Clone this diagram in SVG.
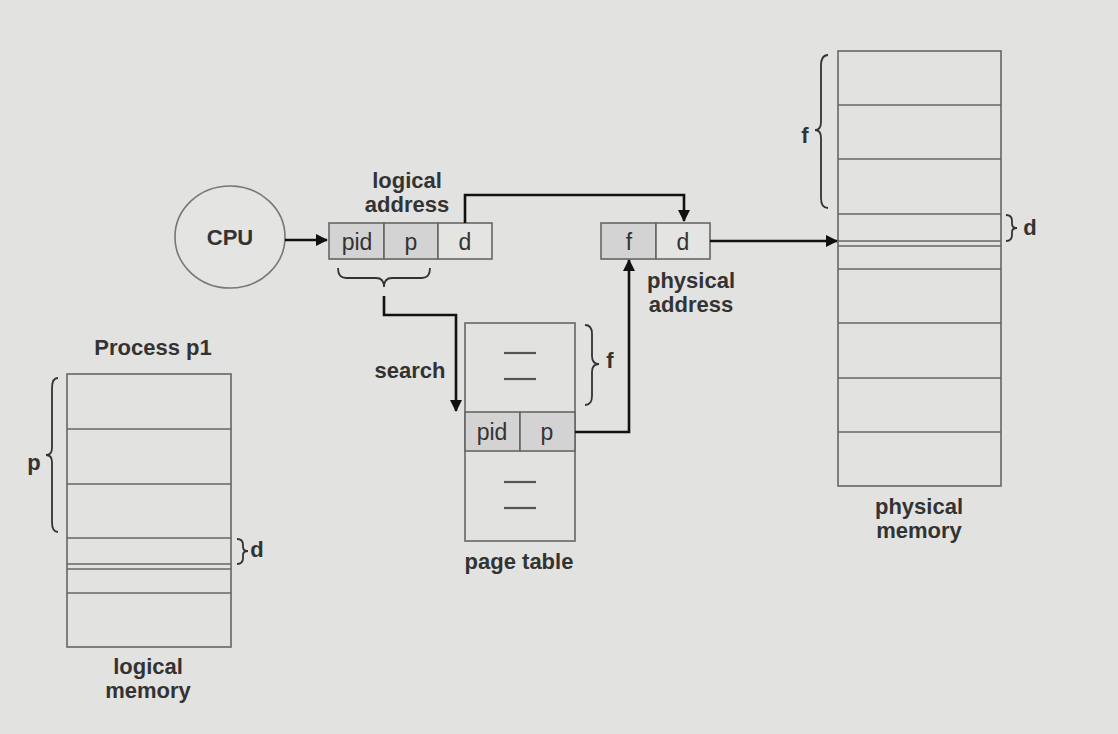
<svg xmlns="http://www.w3.org/2000/svg" width="1118" height="734" viewBox="0 0 1118 734">
<defs>
<marker id="ah" markerWidth="12" markerHeight="12" refX="11" refY="6" orient="auto" markerUnits="userSpaceOnUse">
<path d="M0,0 L12,6 L0,12 z" fill="#111"/>
</marker>
<style>
.box{fill:none;stroke:#666;stroke-width:1.6}
.cell{stroke:#666;stroke-width:1.6}
.g{fill:#d3d3d3}
.w{fill:#e4e4e2}
.ln{stroke:#666;stroke-width:1.6}
.dash{stroke:#555;stroke-width:2.2}
.br{fill:none;stroke:#333;stroke-width:1.8}
.lbl{font-family:"Liberation Sans",Arial,sans-serif;font-weight:bold;font-size:22px;fill:#333;text-anchor:middle}
.cl{font-family:"Liberation Sans",Arial,sans-serif;font-size:23px;fill:#333;text-anchor:middle}
.con{fill:none;stroke:#111;stroke-width:2.6}
</style>
</defs>
<rect width="1118" height="734" fill="#e2e2e0"/>

<g id="cpu">
<ellipse cx="230" cy="237" rx="55" ry="51" fill="#e4e4e2" stroke="#777" stroke-width="1.6"/>
<text class="lbl" x="230" y="245">CPU</text>
</g>

<g id="logical-address">
<text class="lbl" x="407" y="188">logical</text>
<text class="lbl" x="407" y="212">address</text>
<rect class="cell g" x="329" y="223" width="55" height="36"/>
<rect class="cell g" x="384" y="223" width="54" height="36"/>
<rect class="cell w" x="438" y="223" width="54" height="36"/>
<text class="cl" x="357" y="250">pid</text>
<text class="cl" x="411" y="250">p</text>
<text class="cl" x="465" y="250">d</text>
<path class="br" d="M338,268 Q338,278 346,278 L376,278 Q384,278 384,287 Q384,278 392,278 L422,278 Q430,278 430,268"/>
</g>

<g id="physical-address">
<rect class="cell g" x="601" y="223" width="55" height="36"/>
<rect class="cell w" x="656" y="223" width="54" height="36"/>
<text class="cl" x="629" y="250">f</text>
<text class="cl" x="683" y="250">d</text>
<text class="lbl" x="691" y="288">physical</text>
<text class="lbl" x="691" y="312">address</text>
</g>

<g id="page-table">
<rect class="box" x="465" y="323" width="110" height="218"/>
<rect class="cell g" x="465" y="412" width="55" height="39"/>
<rect class="cell g" x="520" y="412" width="55" height="39"/>
<text class="cl" x="492" y="440">pid</text>
<text class="cl" x="547" y="440">p</text>
<line class="dash" x1="504" y1="353" x2="536" y2="353"/>
<line class="dash" x1="504" y1="379" x2="536" y2="379"/>
<line class="dash" x1="504" y1="482" x2="536" y2="482"/>
<line class="dash" x1="504" y1="508" x2="536" y2="508"/>
<path class="br" d="M585,325 Q592,325 592,334 L592,356 Q592,364 599,364 Q592,364 592,372 L592,396 Q592,405 585,405"/>
<text class="lbl" x="610" y="368">f</text>
<text class="lbl" x="519" y="569">page table</text>
<text class="lbl" x="410" y="378">search</text>
</g>

<g id="physical-memory">
<rect class="box" x="838" y="51" width="163" height="435"/>
<line class="ln" x1="838" y1="105" x2="1001" y2="105"/>
<line class="ln" x1="838" y1="159" x2="1001" y2="159"/>
<line class="ln" x1="838" y1="214" x2="1001" y2="214"/>
<line class="ln" x1="838" y1="241" x2="1001" y2="241"/>
<line class="ln" x1="838" y1="246" x2="1001" y2="246"/>
<line class="ln" x1="838" y1="269" x2="1001" y2="269"/>
<line class="ln" x1="838" y1="323" x2="1001" y2="323"/>
<line class="ln" x1="838" y1="378" x2="1001" y2="378"/>
<line class="ln" x1="838" y1="432" x2="1001" y2="432"/>
<path class="br" d="M828,55 Q821,55 821,66 L821,122 Q821,130 815,130 Q821,130 821,138 L821,198 Q821,208 828,208"/>
<text class="lbl" x="805" y="143">f</text>
<path class="br" d="M1006,215 Q1012,215 1012,221 L1012,224 Q1012,228 1017,228 Q1012,228 1012,232 L1012,235 Q1012,241 1006,241"/>
<text class="lbl" x="1030" y="235">d</text>
<text class="lbl" x="919" y="514">physical</text>
<text class="lbl" x="919" y="538">memory</text>
</g>

<g id="logical-memory">
<text class="lbl" x="153" y="355">Process p1</text>
<rect class="box" x="67" y="374" width="164" height="273"/>
<line class="ln" x1="67" y1="429" x2="231" y2="429"/>
<line class="ln" x1="67" y1="484" x2="231" y2="484"/>
<line class="ln" x1="67" y1="538" x2="231" y2="538"/>
<line class="ln" x1="67" y1="564" x2="231" y2="564"/>
<line class="ln" x1="67" y1="569" x2="231" y2="569"/>
<line class="ln" x1="67" y1="593" x2="231" y2="593"/>
<path class="br" d="M58,378 Q52,378 52,388 L52,448 Q52,455 46,455 Q52,455 52,462 L52,522 Q52,532 58,532"/>
<text class="lbl" x="34" y="470">p</text>
<path class="br" d="M237,539 Q243,539 243,545 L243,547 Q243,551 248,551 Q243,551 243,555 L243,558 Q243,564 237,564"/>
<text class="lbl" x="257" y="557">d</text>
<text class="lbl" x="148" y="674">logical</text>
<text class="lbl" x="148" y="698">memory</text>
</g>

<g id="connectors">
<path class="con" d="M285,240 L327,240" marker-end="url(#ah)"/>
<path class="con" d="M465,223 L465,195 L684,195 L684,221" marker-end="url(#ah)"/>
<path class="con" d="M384,296 L384,315 L456,315 L456,411" marker-end="url(#ah)"/>
<path class="con" d="M575,432 L629,432 L629,260" marker-end="url(#ah)"/>
<path class="con" d="M710,241 L837,241" marker-end="url(#ah)"/>
</g>
</svg>
